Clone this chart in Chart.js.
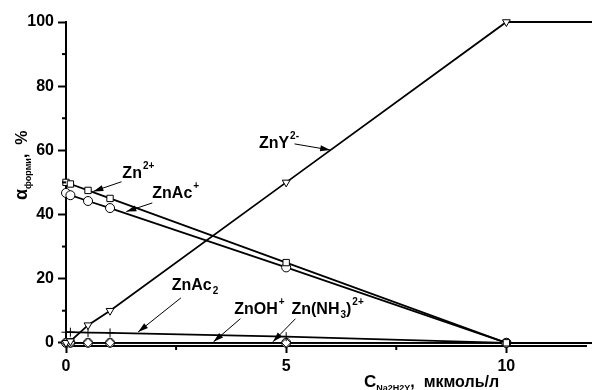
<!DOCTYPE html>
<html>
<head>
<meta charset="utf-8">
<script src="https://cdn.jsdelivr.net/npm/chart.js@4.4.1/dist/chart.umd.min.js"></script>
<style>
  html, body { margin: 0; padding: 0; background: #fff; overflow: hidden; }
</style>
</head>
<body>
<canvas id="myChart" width="592" height="390"></canvas>
<script>
// data
const concentrations = [0, 0.1, 0.5, 1, 5, 10, 12];
const zn2Plus   = [50, 49.5, 47.5, 45, 25, 0, 0];
const znAcPlus  = [46.7, 46, 44.2, 42, 23.5, 0, 0];
const znY2Minus = [0, 0.5, 5.5, 10, 50, 100, 100];
const znAc2     = [3.3, 3.3, 3.2, 3.1, 1.9, 0, 0];
const znOHPlus  = [0, 0, 0, 0, 0, 0, 0];
const znNH3     = [0, 0, 0, 0, 0, 0, 0];

const xTicks = [0, 5, 10];
const xMinorTicks = [2.5, 7.5];
const yTicks = [0, 20, 40, 60, 80, 100];
const yMinorTicks = [10, 30, 50, 70, 90];

// labels with arrows, in data units: text at (x,y), arrow from -> to
const callouts = [
  { parts: [['Zn', 0], ['2+', -1]], x: 1.28, y: 51.4, from: [1.26, 50.2], to: [0.62, 47.2] },
  { parts: [['ZnAc', 0], ['+', -1]], x: 1.96, y: 45.2, from: [1.96, 43.6], to: [1.37, 40.9] },
  { parts: [['ZnY', 0], ['2-', -1]], x: 4.38, y: 60.7, from: [5.19, 62.0], to: [6.0, 60.1] },
  { parts: [['ZnAc', 0], ['2', 1]], x: 2.40, y: 16.5, from: [2.61, 14.0], to: [1.64, 3.4] },
  { parts: [['ZnOH', 0], ['+', -1]], x: 3.82, y: 9.0, from: [3.96, 7.5], to: [3.35, 0.3] },
  { parts: [['Zn(NH', 0], ['3', 1], [')', 0], ['2+', -1]], x: 5.12, y: 9.0, from: [5.21, 7.5], to: [4.70, 0.3] }
];

function pts(ys) {
  return concentrations.map((x, i) => ({ x: x, y: ys[i] }));
}

function series(ys, style, rot) {
  return {
    data: pts(ys),
    borderColor: '#000',
    borderWidth: 1.8,
    backgroundColor: '#fff',
    pointBackgroundColor: '#fff',
    pointBorderColor: '#000',
    pointBorderWidth: 1,
    pointStyle: style,
    pointRotation: rot || 0,
    pointRadius: 4.5,
    tension: 0,
    clip: false
  };
}

const font = 'bold 16px "Liberation Sans", Arial, sans-serif';

const extras = {
  id: 'extras',
  afterDraw(chart) {
    const ctx = chart.ctx;
    const xs = chart.scales.x, ys = chart.scales.y;
    ctx.save();
    ctx.strokeStyle = '#000';
    ctx.fillStyle = '#000';

    // minor ticks
    ctx.lineWidth = 2;
    yMinorTicks.forEach(v => {
      const py = ys.getPixelForValue(v);
      ctx.beginPath(); ctx.moveTo(xs.left - 4, py); ctx.lineTo(xs.left, py); ctx.stroke();
    });
    xMinorTicks.forEach(v => {
      const px = xs.getPixelForValue(v);
      ctx.beginPath(); ctx.moveTo(px, ys.bottom); ctx.lineTo(px, ys.bottom + 4); ctx.stroke();
    });

    // callouts
    callouts.forEach(c => {
      let px = xs.getPixelForValue(c.x);
      const py = ys.getPixelForValue(c.y);
      ctx.textBaseline = 'alphabetic';
      ctx.textAlign = 'left';
      c.parts.forEach(p => {
        if (p[1] === 0) {
          ctx.font = font;
          ctx.fillText(p[0], px, py);
        } else {
          ctx.font = 'bold 10px "Liberation Sans", Arial, sans-serif';
          ctx.fillText(p[0], px + 1, p[1] < 0 ? py - 9 : py + 4);
        }
        px += ctx.measureText(p[0]).width + (p[1] === 0 ? 0 : 1);
      });
      const x1 = xs.getPixelForValue(c.from[0]), y1 = ys.getPixelForValue(c.from[1]);
      const x2 = xs.getPixelForValue(c.to[0]), y2 = ys.getPixelForValue(c.to[1]);
      ctx.lineWidth = 1;
      ctx.beginPath(); ctx.moveTo(x1, y1); ctx.lineTo(x2, y2); ctx.stroke();
      const a = Math.atan2(y2 - y1, x2 - x1);
      ctx.beginPath();
      ctx.moveTo(x2, y2);
      ctx.lineTo(x2 - 10 * Math.cos(a) + 3 * Math.sin(a), y2 - 10 * Math.sin(a) - 3 * Math.cos(a));
      ctx.lineTo(x2 - 10 * Math.cos(a) - 3 * Math.sin(a), y2 - 10 * Math.sin(a) + 3 * Math.cos(a));
      ctx.closePath();
      ctx.fill();
    });

    // y title
    ctx.save();
    ctx.translate(27, 200);
    ctx.rotate(-Math.PI / 2);
    ctx.font = 'bold 18px "Liberation Sans", Arial, sans-serif';
    ctx.fillText('\u03b1', 0, 0);
    let w = ctx.measureText('\u03b1').width;
    ctx.font = 'bold 9px "Liberation Sans", Arial, sans-serif';
    ctx.fillText('\u0444\u043e\u0440\u043c\u0438', w, 4);
    w += ctx.measureText('\u0444\u043e\u0440\u043c\u0438').width;
    ctx.font = font;
    ctx.fillText(',  %', w, 0);
    ctx.restore();

    // x title
    let tx = 364;
    const ty = 387;
    ctx.font = 'bold 17px "Liberation Sans", Arial, sans-serif';
    ctx.fillText('C', tx, ty);
    tx += ctx.measureText('C').width;
    ctx.font = 'bold 9px "Liberation Sans", Arial, sans-serif';
    ctx.fillText('Na2H2Y', tx, ty + 4);
    tx += ctx.measureText('Na2H2Y').width;
    ctx.font = font;
    ctx.fillText(',  \u043c\u043a\u043c\u043e\u043b\u044c/\u043b', tx, ty);

    ctx.restore();
  }
};

const data = {
  datasets: [
    series(zn2Plus, 'rect'),
    series(znAcPlus, 'circle'),
    series(znY2Minus, 'triangle', 180),
    series(znAc2, 'cross'),
    series(znOHPlus, 'rectRot'),
    series(znNH3, 'circle')
  ]
};

const config = {
  type: 'line',
  data,
  options: {
    responsive: false,
    animation: false,
    devicePixelRatio: 1,
    layout: { padding: { top: 22, right: 0, left: 0, bottom: 0 } },
    plugins: {
      legend: { display: false },
      tooltip: { enabled: false }
    },
    scales: {
      x: {
        type: 'linear',
        min: 0,
        max: 11.82,
        afterBuildTicks: s => { s.ticks = xTicks.map(v => ({ value: v })); },
        afterFit: s => { s.height = 44; },
        border: { color: '#000', width: 2 },
        grid: { drawOnChartArea: false, color: '#000', tickLength: 7, tickWidth: 2 },
        ticks: { color: '#000', padding: 4, maxRotation: 0, font: { family: '"Liberation Sans", Arial', size: 16, weight: 'bold' } }
      },
      y: {
        min: -1,
        max: 100,
        afterBuildTicks: s => { s.ticks = yTicks.map(v => ({ value: v })); },
        afterFit: s => { s.width = 66; },
        border: { color: '#000', width: 2 },
        grid: { drawOnChartArea: false, color: '#000', tickLength: 8, tickWidth: 2 },
        ticks: { color: '#000', padding: 4, font: { family: '"Liberation Sans", Arial', size: 16, weight: 'bold' } }
      }
    }
  },
  plugins: [extras]
};

const myChart = new Chart(document.getElementById('myChart'), config);
</script>
</body>
</html>
